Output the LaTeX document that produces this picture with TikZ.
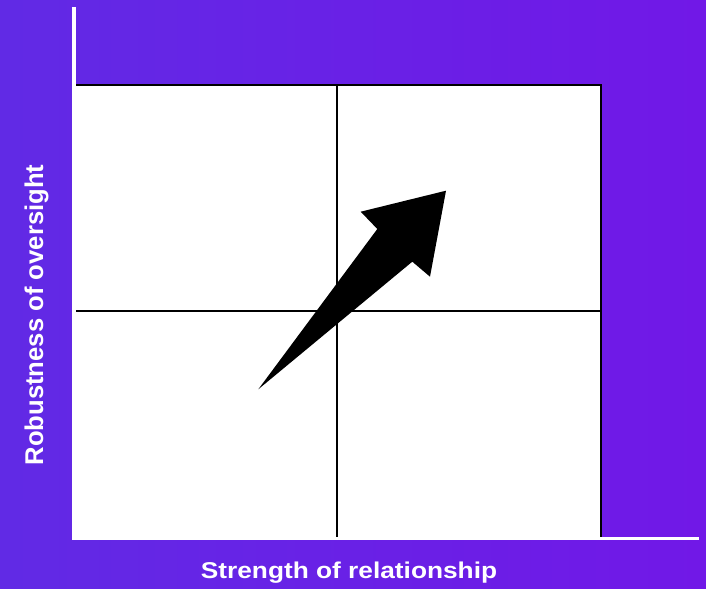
\documentclass[tikz,border=0pt]{standalone}
\usepackage{fontspec}
\setmainfont{Liberation Sans}
\usepackage{graphicx}
\usepackage{tikz}
\definecolor{bgleft}{RGB}{97,42,229}
\definecolor{bgright}{RGB}{113,24,231}

\begin{document}
\begin{tikzpicture}[x=0.02cm,y=0.02cm]
% Background with gradient
\shade[left color=bgleft, right color=bgright] (0,0) rectangle (706,588);
\useasboundingbox (0,0) rectangle (706,588);
% Quadrant box
\coordinate (bl) at (74,50);
\coordinate (tr) at (601,503);
\fill[white] (bl) rectangle (tr);
\draw[black, line width=1.4pt] (bl) rectangle (tr);
% Dividing lines
\coordinate (midb) at (337,50);
\coordinate (midt) at (337,503);
\coordinate (midl) at (74,277);
\coordinate (midr) at (601,277);
\draw[black, line width=1.4pt] (midb) -- (midt);
\draw[black, line width=1.4pt] (midl) -- (midr);
% Axes
\coordinate (ytop) at (74,581);
\coordinate (origin) at (74,49.5);
\coordinate (xend) at (699,49.5);
\draw[white, line width=2pt] (ytop) -- (origin) -- (xend);
% Trend arrow
\fill[black] (258.3,198.7) -- (377.3,359) -- (360.7,376.3) -- (446,397.3)
  -- (430,311.3) -- (412.3,326.3) -- cycle;
% Axis labels
\node[white, anchor=base, inner sep=0pt] (xlabel) at (349,10)
  {\fontsize{13}{15}\selectfont\bfseries\scalebox{1.15}[1]{Strength of relationship}};
\node[white, anchor=base, rotate=90, inner sep=0pt] (ylabel) at (43,273)
  {\fontsize{14.6}{17}\selectfont\bfseries Robustness of oversight};
\end{tikzpicture}
\end{document}
